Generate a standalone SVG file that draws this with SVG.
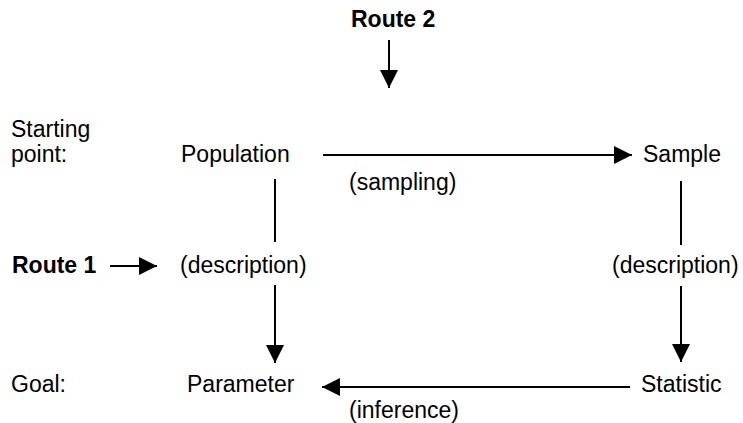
<svg xmlns="http://www.w3.org/2000/svg" width="743" height="423" viewBox="0 0 743 423">
<defs>
<style>
text{font-family:"Liberation Sans",Arial,Helvetica,sans-serif;font-size:23px;fill:#000}
.b{font-weight:bold}
.c line{stroke:#000;stroke-width:2}
.a{marker-end:url(#ah)}
</style>
<marker id="ah" markerUnits="userSpaceOnUse" markerWidth="18" markerHeight="18" refX="18" refY="9" orient="auto" viewBox="0 0 18 18">
<path d="M0,0 L18,9 L0,18 Z" fill="#000"/>
</marker>
</defs>
<rect width="743" height="423" fill="#fff"/>
<g id="route2"><text class="b" x="351" y="27">Route 2</text></g>
<g id="route1"><text class="b" x="12" y="273">Route 1</text></g>
<g id="starting"><text x="11" y="137">Starting</text><text x="11" y="162">point:</text></g>
<g id="goal"><text x="11" y="392">Goal:</text></g>
<g id="population"><text x="181" y="162">Population</text></g>
<g id="sample"><text x="643" y="162">Sample</text></g>
<g id="parameter"><text x="187" y="392">Parameter</text></g>
<g id="statistic"><text x="641" y="392">Statistic</text></g>
<g id="labels">
<text x="349" y="190">(sampling)</text>
<text x="180" y="273">(description)</text>
<text x="612" y="273">(description)</text>
<text x="349" y="418">(inference)</text>
</g>
<g id="connectors" class="c">
<line class="a" x1="389" y1="40" x2="389" y2="88"/>
<line class="a" x1="110" y1="266" x2="157" y2="266"/>
<line class="a" x1="323" y1="155" x2="632" y2="155"/>
<line x1="275" y1="179" x2="275" y2="242"/>
<line class="a" x1="275" y1="285" x2="275" y2="363"/>
<line x1="681" y1="181" x2="681" y2="245"/>
<line class="a" x1="681" y1="286" x2="681" y2="362"/>
<line class="a" x1="630" y1="387" x2="322" y2="387"/>
</g>
</svg>
